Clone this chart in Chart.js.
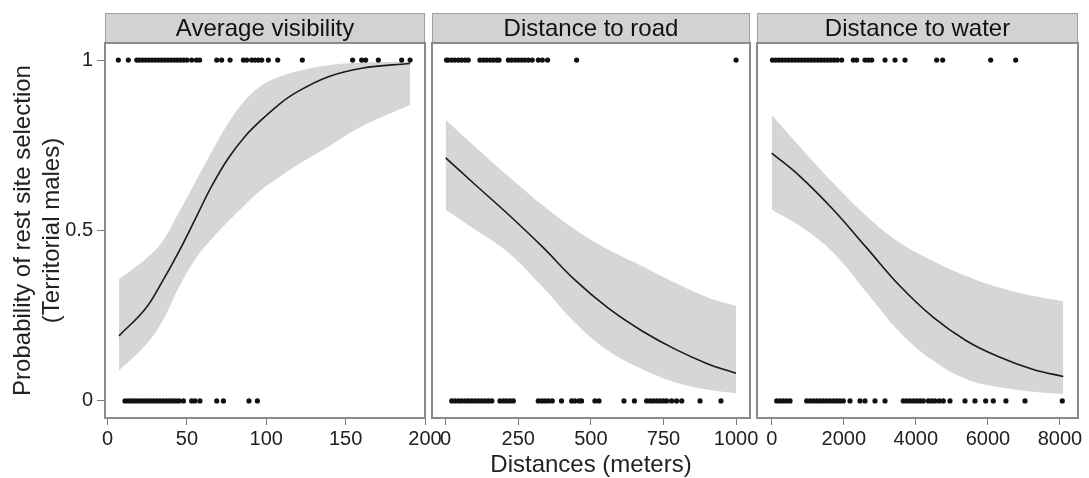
<!DOCTYPE html>
<html><head><meta charset="utf-8">
<script src="https://cdn.jsdelivr.net/npm/chart.js@4.4.1/dist/chart.umd.min.js"></script>
<style>
html,body{margin:0;padding:0;background:#fff;}
#wrap{position:relative;width:1089px;height:478px;}
canvas{position:absolute;left:0;top:0;}
</style></head><body>
<div id="wrap">
<canvas id="c1" width="1089" height="478"></canvas>
<canvas id="c2" width="1089" height="478"></canvas>
<canvas id="c3" width="1089" height="478"></canvas>
</div>
<script>
// ---------- data ----------
const panelTitles = ['Average visibility', 'Distance to road', 'Distance to water'];
const yTickValues = [0, 0.5, 1];
const yTickLabels = ['0', '0.5', '1'];

// Average visibility
const visTicks = [0, 50, 100, 150, 200];
const visCurveX = [7.2, 23.6, 34.1, 44.6, 55.1, 65.6, 76.1, 86.6, 97.1, 107.6, 118.1, 139.1, 160.1, 190.6];
const visFit    = [0.191, 0.269, 0.347, 0.435, 0.532, 0.630, 0.712, 0.776, 0.825, 0.868, 0.903, 0.951, 0.976, 0.990];
const visUpper  = [0.357, 0.415, 0.465, 0.550, 0.640, 0.730, 0.815, 0.882, 0.925, 0.950, 0.966, 0.985, 0.992, 0.995];
const visLower  = [0.089, 0.162, 0.230, 0.330, 0.415, 0.475, 0.527, 0.575, 0.620, 0.655, 0.688, 0.746, 0.805, 0.868];
const visSelected = [6.8, 13.1, 18.4, 20, 22, 24, 26, 28, 30, 32, 34, 36, 38, 40, 42, 44, 46, 48, 50, 53, 56, 58,
  68.8, 71.9, 77.2, 85.6, 87.7, 90.8, 92.9, 95, 97.1, 101.3, 107.2, 122.7, 154.4, 160.1, 162.6, 170.6, 185.3, 190.6];
const visAvailable = [11, 13, 15, 17, 19, 21, 23, 25, 27, 29, 31, 33, 35, 37, 39, 41, 43, 45, 47.8, 53, 55.1, 58.2,
  68.8, 73, 89.1, 94.4];

// Distance to road
const roadTicks = [0, 250, 500, 750, 1000];
const roadCurveX = [0, 101, 216, 331, 445, 560, 675, 790, 905, 1000];
const roadFit    = [0.713, 0.635, 0.547, 0.454, 0.355, 0.272, 0.206, 0.152, 0.108, 0.081];
const roadUpper  = [0.825, 0.746, 0.659, 0.576, 0.503, 0.444, 0.396, 0.347, 0.303, 0.279];
const roadLower  = [0.561, 0.503, 0.435, 0.337, 0.230, 0.147, 0.094, 0.055, 0.033, 0.023];
const roadSelected = [3, 9, 21, 32, 44, 55, 67, 78, 118, 130, 141, 153, 164, 176, 184, 216, 227, 239, 250, 262,
  273, 285, 298, 319, 333, 351, 451, 1000];
const roadAvailable = [21, 32, 44, 55, 67, 78, 90, 101, 113, 124, 136, 147, 159, 187, 199, 210, 222, 233, 319, 331,
  342, 354, 367, 399, 434, 445, 459, 468, 514, 528, 614, 650, 692, 704, 715, 727, 738, 750, 761, 778, 795, 813, 876, 948];

// Distance to water
const waterTicks = [0, 2000, 4000, 6000, 8000];
const waterCurveX = [0, 785, 1710, 2636, 3560, 4485, 5410, 6335, 7260, 8091];
const waterFit    = [0.727, 0.659, 0.561, 0.449, 0.337, 0.245, 0.176, 0.128, 0.092, 0.072];
const waterUpper  = [0.839, 0.746, 0.639, 0.542, 0.464, 0.410, 0.366, 0.332, 0.308, 0.293];
const waterLower  = [0.561, 0.513, 0.435, 0.318, 0.201, 0.118, 0.064, 0.040, 0.027, 0.020];
const waterSelected = [20, 110, 200, 290, 380, 470, 560, 650, 740, 830, 920, 1010, 1100, 1190, 1280, 1370, 1460,
  1550, 1640, 1730, 1820, 1942, 2265, 2358, 2589, 2682, 2775, 3145, 3422, 3700, 4578, 4745, 6077, 6770];
const waterAvailable = [139, 231, 323, 416, 509, 971, 1064, 1155, 1249, 1341, 1433, 1526, 1618, 1710, 1803, 1895,
  1988, 2173, 2451, 2589, 2866, 3145, 3652, 3746, 3838, 3930, 4023, 4115, 4207, 4346, 4440, 4532, 4651, 4762,
  4948, 5364, 5641, 5938, 6149, 6500, 7029, 8064];

const yAxisTitle = ['Probability of rest site selection', '(Territorial males)'];
const xAxisTitle = 'Distances (meters)';

// ---------- drawing ----------
const FONT = '"Liberation Sans", Arial, sans-serif';
const W = 1089;

const decor = {
  id: 'decor',
  afterDraw(chart, args, opts) {
    const {ctx, chartArea: a} = chart;
    ctx.save();
    ctx.fillStyle = '#d2d2d2';
    ctx.fillRect(a.left, 13, a.right - a.left, 30);
    ctx.strokeStyle = '#a0a0a0';
    ctx.lineWidth = 1;
    ctx.strokeRect(a.left + 0.5, 13.5, a.right - a.left - 1, 29);
    ctx.font = '24px ' + FONT;
    ctx.fillStyle = '#111';
    ctx.textAlign = 'center';
    ctx.textBaseline = 'middle';
    ctx.fillText(opts.text, (a.left + a.right) / 2, 29);
    ctx.strokeStyle = '#8a8a8a';
    ctx.lineWidth = 2;
    ctx.strokeRect(a.left, a.top, a.right - a.left, a.bottom - a.top);
    ctx.restore();
  }
};

function pts(xs, ys) { return xs.map((x, i) => ({x: x, y: ys[i]})); }
function outcome(xs, v) { return xs.map(x => ({x: x, y: v})); }

function makePanel(id, p) {
  const datasets = [
    {data: pts(p.cx, p.upper), order: 5, borderWidth: 0, pointRadius: 0, backgroundColor: '#d6d6d6',
     fill: '+1', tension: 0.4},
    {data: pts(p.cx, p.lower), order: 4, borderWidth: 0, pointRadius: 0, fill: false, tension: 0.4},
    {data: pts(p.cx, p.fit), order: 2, borderColor: '#1a1a1a', borderWidth: 1.6, pointRadius: 0, fill: false,
     tension: 0.4},
    {data: outcome(p.sel, 1), order: 1, showLine: false, pointRadius: 2.6, pointBorderWidth: 0,
     pointBackgroundColor: '#111', backgroundColor: '#111'},
    {data: outcome(p.avail, 0), order: 1, showLine: false, pointRadius: 2.6, pointBorderWidth: 0,
     pointBackgroundColor: '#111', backgroundColor: '#111'}
  ];
  return new Chart(document.getElementById(id), {
    type: 'line',
    data: {datasets},
    plugins: [decor],
    options: {
      responsive: false, animation: false, events: [],
      layout: {padding: {left: p.showY ? 0 : p.left, right: W - p.right, top: 43, bottom: 0}},
      plugins: {legend: {display: false}, tooltip: {enabled: false}, decor: {text: p.title}},
      scales: {
        x: {
          type: 'linear', min: p.xmin, max: p.xmax,
          afterBuildTicks: s => { s.ticks = p.ticks.map(v => ({value: v})); },
          afterFit: s => { s.height = 60; },
          grid: {drawOnChartArea: false, drawTicks: true, tickLength: 7, color: '#7a7a7a', lineWidth: 1},
          border: {display: false},
          ticks: {color: '#222', font: {size: 20, family: FONT}, padding: 2, maxRotation: 0,
                  autoSkip: false, callback: v => String(v)},
          title: {display: !!p.xTitle, text: p.xTitle || '', color: '#222',
                  font: {size: 24, family: FONT, lineHeight: 1.0}, padding: {top: 0, bottom: 1}}
        },
        y: {
          display: p.showY, min: -0.05, max: 1.05,
          afterBuildTicks: s => { s.ticks = yTickValues.map(v => ({value: v})); },
          afterFit: s => { if (p.showY) s.width = p.left; },
          grid: {drawOnChartArea: false, drawTicks: true, tickLength: 8, color: '#7a7a7a', lineWidth: 1},
          border: {display: false},
          ticks: {color: '#222', font: {size: 20, family: FONT}, padding: 4,
                  callback: (v) => yTickLabels[yTickValues.indexOf(v)]},
          title: {display: p.showY, text: yAxisTitle, color: '#222',
                  font: {size: 24, family: FONT, lineHeight: 1.2}, padding: {top: 9, bottom: 0}}
        }
      }
    }
  });
}

makePanel('c1', {left: 105, right: 425, xmin: -1.6, xmax: 200, ticks: visTicks, title: panelTitles[0],
  cx: visCurveX, fit: visFit, upper: visUpper, lower: visLower, sel: visSelected, avail: visAvailable, showY: true});
makePanel('c2', {left: 432, right: 750, xmin: -47, xmax: 1048, ticks: roadTicks, title: panelTitles[1],
  cx: roadCurveX, fit: roadFit, upper: roadUpper, lower: roadLower, sel: roadSelected, avail: roadAvailable,
  showY: false, xTitle: xAxisTitle});
makePanel('c3', {left: 757, right: 1078, xmin: -408, xmax: 8500, ticks: waterTicks, title: panelTitles[2],
  cx: waterCurveX, fit: waterFit, upper: waterUpper, lower: waterLower, sel: waterSelected, avail: waterAvailable,
  showY: false});
</script>
</body></html>
